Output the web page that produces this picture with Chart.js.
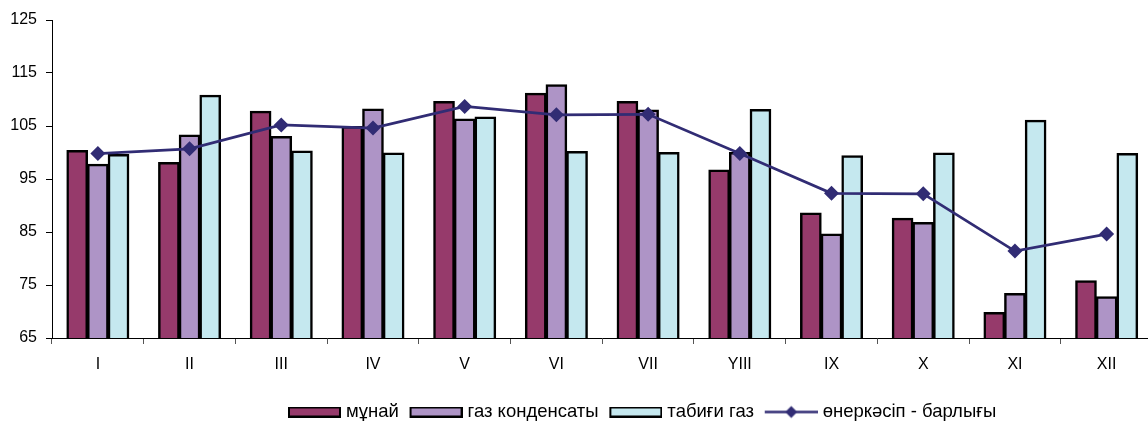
<!DOCTYPE html>
<html>
<head>
<meta charset="utf-8">
<script src="https://cdn.jsdelivr.net/npm/chart.js@4/dist/chart.umd.min.js"></script>
<style>
html, body { margin: 0; padding: 0; background: #fff; overflow: hidden; }
#wrap { width: 1160px; height: 423px; }
</style>
</head>
<body>
<div id="wrap"><canvas id="c" width="1160" height="423"></canvas></div>
<script>
const months = ['I','II','III','IV','V','VI','VII','YIII','IX','X','XI','XII'];
const oil = [100.4, 98.1, 107.8, 104.9, 109.6, 111.2, 109.6, 96.7, 88.6, 87.6, 69.8, 75.8];
const condensate = [97.8, 103.3, 103.0, 108.2, 106.3, 112.8, 108.0, 100.0, 84.6, 86.8, 73.4, 72.8];
const naturalGas = [99.6, 110.8, 100.3, 99.9, 106.7, 100.2, 100.0, 108.1, 99.4, 99.9, 106.1, 99.8];
const industryTotal = [99.8, 100.7, 105.2, 104.6, 108.7, 107.1, 107.2, 99.8, 92.3, 92.2, 81.4, 84.6];
const seriesNames = ['мұнай', 'газ конденсаты', 'табиғи газ', 'өнеркәсіп - барлығы'];
const yTicks = [65, 75, 85, 95, 105, 115, 125];

const C_OIL = '#963A6B', C_COND = '#AE94C6', C_GAS = '#C5E8EF', C_LINE = '#312C74';
const FONT = 'Liberation Sans, Arial, sans-serif';

// legend symbol canvases: visible part 53px wide, placed at L inside width W
const SW = 68, SL = 15;
function boxSymbol(color) {
  const c = document.createElement('canvas');
  c.width = SW; c.height = 11;
  const x = c.getContext('2d');
  x.fillStyle = '#000'; x.fillRect(SL, 0, 53, 11);
  x.fillStyle = color; x.fillRect(SL + 2, 2, 49, 7);
  return c;
}
function lineSymbol(color) {
  const c = document.createElement('canvas');
  c.width = SW; c.height = 15;
  const x = c.getContext('2d');
  x.strokeStyle = color; x.lineWidth = 2.5;
  x.beginPath(); x.moveTo(SL, 7.5); x.lineTo(SL + 53, 7.5); x.stroke();
  x.fillStyle = color;
  const cx = SL + 26.5;
  x.beginPath(); x.moveTo(cx, 1.5); x.lineTo(cx + 6, 7.5); x.lineTo(cx, 13.5); x.lineTo(cx - 6, 7.5); x.closePath(); x.fill();
  return c;
}
const symbols = [boxSymbol(C_OIL), boxSymbol(C_COND), boxSymbol(C_GAS), lineSymbol(C_LINE)];

const legendPlacer = {
  id: 'legendPlacer',
  afterLayout(chart) {
    const lg = chart.legend;
    if (!lg) return;
    const h = lg.height;
    lg.left = 277.25; lg.right = lg.left + 1000;
    lg.top = 402.75; lg.bottom = lg.top + h;
  }
};

const barCommon = { borderColor: '#000', borderWidth: 2.5, borderSkipped: false, categoryPercentage: 0.676, barPercentage: 1.0, inflateAmount: 0.5, order: 1 };

new Chart(document.getElementById('c'), {
  data: {
    labels: months,
    datasets: [
      Object.assign({ type: 'bar', label: seriesNames[0], data: oil, backgroundColor: C_OIL }, barCommon),
      Object.assign({ type: 'bar', label: seriesNames[1], data: condensate, backgroundColor: C_COND }, barCommon),
      Object.assign({ type: 'bar', label: seriesNames[2], data: naturalGas, backgroundColor: C_GAS }, barCommon),
      { type: 'line', label: seriesNames[3], data: industryTotal, borderColor: C_LINE, backgroundColor: C_LINE,
        borderWidth: 2.7, pointStyle: 'rectRot', pointRadius: 7.5, pointHoverRadius: 7.5, pointBorderWidth: 0, tension: 0, order: 0 }
    ]
  },
  plugins: [legendPlacer],
  options: {
    responsive: false,
    animation: false,
    devicePixelRatio: 1,
    layout: { padding: { top: 20, right: 1, left: 0, bottom: 0 } },
    scales: {
      x: {
        grid: { offset: true, drawOnChartArea: false, drawTicks: true, tickLength: 6, color: '#555' },
        border: { color: '#000', width: 1 },
        ticks: { color: '#000', font: { family: FONT, size: 16 }, padding: 11, maxRotation: 0, autoSkip: false },
        afterFit: s => { s.height = 56.5; }
      },
      y: {
        min: 65, max: 125,
        afterBuildTicks: s => { s.ticks = yTicks.map(v => ({ value: v })); },
        grid: { drawOnChartArea: false, drawTicks: true, tickLength: 6, color: '#000' },
        border: { color: '#000', width: 1 },
        ticks: { color: '#000', font: { family: FONT, size: 16 }, padding: 9 },
        afterFit: s => { s.width = 52; }
      }
    },
    plugins: {
      tooltip: { enabled: false },
      legend: {
        position: 'bottom',
        align: 'start',
        labels: {
          usePointStyle: true,
          pointStyleWidth: 59.5,
          boxHeight: 14,
          padding: 0,
          color: '#000',
          font: { family: FONT, size: 18.5 },
          generateLabels: chart => chart.data.datasets.map((ds, i) => ({
            text: ds.label, pointStyle: symbols[i], datasetIndex: i, hidden: false,
            fillStyle: ds.backgroundColor, strokeStyle: ds.borderColor, lineWidth: 0, fontColor: '#000'
          }))
        }
      }
    }
  }
});
</script>
</body>
</html>
